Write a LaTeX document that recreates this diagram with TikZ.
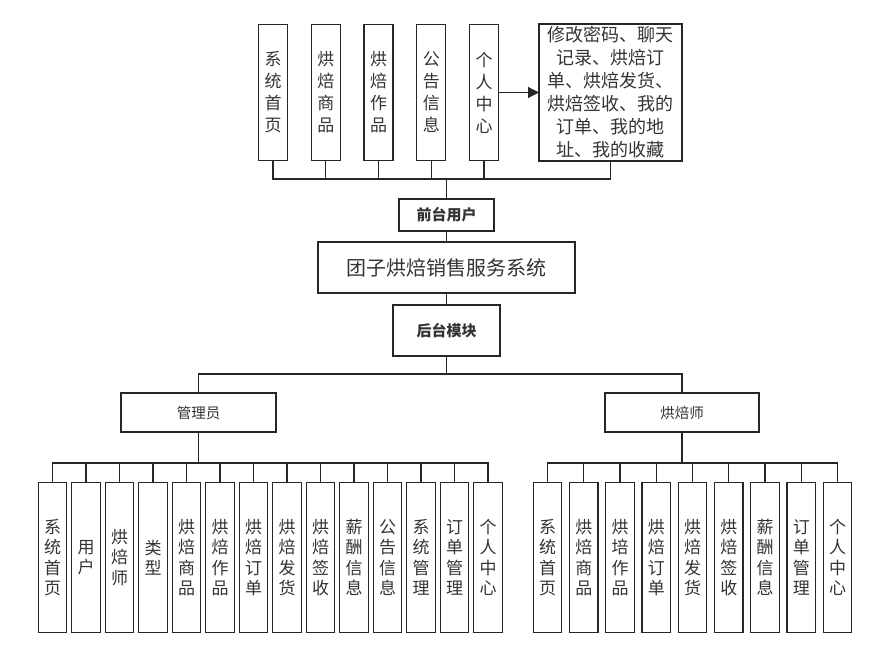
\documentclass[tikz,border=0pt]{standalone}
\usepackage{fontspec}
\setmainfont{Noto Sans CJK SC}
\usetikzlibrary{arrows.meta,positioning}

\begin{document}
\begin{tikzpicture}[x=1pt, y=-1pt,
    box/.style={draw=black!85, line width=1.1pt, inner sep=0pt, outer sep=0pt, align=center, text=black!80},
    col/.style={box, minimum width=29pt, minimum height=136pt, font=\fontsize{17}{22}\selectfont},
    leaf/.style={box, minimum width=28.5pt, minimum height=150pt, font=\fontsize{17}{20.5}\selectfont},
    link/.style={draw=black!85, line width=1.1pt},
    arr/.style={link, -{Triangle[length=11pt, width=11pt]}}
]
\useasboundingbox (0,0) rectangle (888,663);

% front-end pages
\node[col] (t1) at (273,92.5) {系\\统\\首\\页};
\node[col, right=23.75pt of t1] (t2) {烘\\焙\\商\\品};
\node[col, right=23.75pt of t2] (t3) {烘\\焙\\作\\品};
\node[col, right=23.75pt of t3] (t4) {公\\告\\信\\息};
\node[col, right=23.75pt of t4] (t5) {个\\人\\中\\心};
\node[box, minimum width=143pt, minimum height=137pt, font=\fontsize{18}{23}\selectfont] (more) at (610.5,92.5)
    {修改密码、聊天\\记录、烘焙订\\单、烘焙发货、\\烘焙签收、我的\\订单、我的地\\址、我的收藏};

% middle column
\node[box, minimum width=95pt, minimum height=32pt, font=\fontsize{15}{18}\selectfont\bfseries] (qt) at (446.5,215) {前台用户};
\node[box, minimum width=257pt, minimum height=51pt, font=\fontsize{20}{24}\selectfont] (xt) at (446.5,267.5) {团子烘焙销售服务系统};
\node[box, minimum width=107pt, minimum height=51pt, font=\fontsize{15}{18}\selectfont\bfseries] (ht) at (446.5,330.5) {后台模块};

% roles
\node[box, minimum width=155pt, minimum height=39pt, font=\fontsize{14.5}{17}\selectfont] (gly) at (198.5,412.5) {管理员};
\node[box, minimum width=154pt, minimum height=39pt, font=\fontsize{14.5}{17}\selectfont] (hbs) at (682,412.5) {烘焙师};

% admin pages
\node[leaf] (a1) at (52.5,557.5) {系\\统\\首\\页};
\foreach \lbl [count=\i from 2, remember=\i as \prev (initially 1)] in
    {{用\\户},{烘\\焙\\师},{类\\型},{烘\\焙\\商\\品},{烘\\焙\\作\\品},{烘\\焙\\订\\单},{烘\\焙\\发\\货},
     {烘\\焙\\签\\收},{薪\\酬\\信\\息},{公\\告\\信\\息},{系\\统\\管\\理},{订\\单\\管\\理},{个\\人\\中\\心}}
    \node[leaf, right=5pt of a\prev] (a\i) {\lbl};

% baker pages
\node[leaf] (b1) at (547.5,557.5) {系\\统\\首\\页};
\foreach \lbl [count=\i from 2, remember=\i as \prev (initially 1)] in
    {{烘\\焙\\商\\品},{烘\\培\\作\\品},{烘\\焙\\订\\单},{烘\\焙\\发\\货},{烘\\焙\\签\\收},
     {薪\\酬\\信\\息},{订\\单\\管\\理},{个\\人\\中\\心}}
    \node[leaf, right=7.75pt of b\prev] (b\i) {\lbl};

% connectors
\draw[arr] (t5.east) -- (t5.east -| more.west);
\coordinate (topbus) at (446.5,179);
\foreach \n in {t1,t2,t3,t4,t5,more}
    \draw[link] (\n.south) |- (topbus);
\draw[link] (topbus) -- (qt.north);
\draw[link] (qt.south) -- (xt.north);
\draw[link] (xt.south) -- (ht.north);
\draw[link] (ht.south) -- ++(0,18) coordinate (hbus);
\draw[link] (gly.north) |- (hbus) -| (hbs.north);
\draw[link] (gly.south) -- ++(0,31) coordinate (abus);
\foreach \i in {1,...,14}
    \draw[link] (a\i.north) |- (abus);
\draw[link] (hbs.south) -- ++(0,31) coordinate (bbus);
\foreach \i in {1,...,9}
    \draw[link] (b\i.north) |- (bbus);
\end{tikzpicture}
\end{document}
